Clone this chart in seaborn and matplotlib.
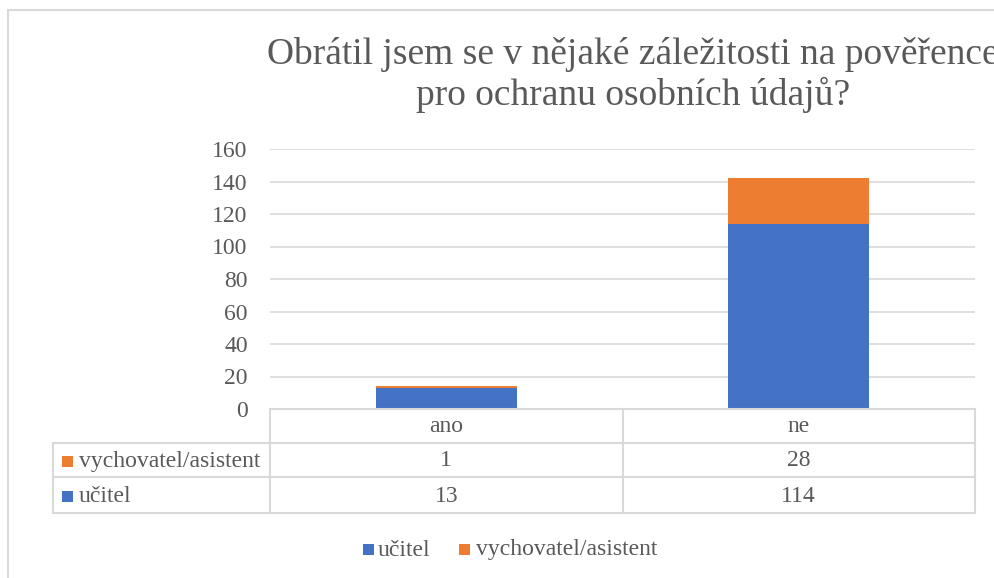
import matplotlib
matplotlib.use("Agg")
import matplotlib.pyplot as plt
import seaborn as sns
import pandas as pd
from matplotlib.patches import Rectangle
from matplotlib.lines import Line2D
from matplotlib.transforms import blended_transform_factory

categories = ["ano", "ne"]
ucitel = [13, 114]
vychovatel = [1, 28]
series_names = ["učitel", "vychovatel/asistent"]
yticks = [0, 20, 40, 60, 80, 100, 120, 140, 160]
title = "Obrátil jsem se v nějaké záležitosti na pověřence\npro ochranu osobních údajů?"

BLUE = "#4472C4"
ORANGE = "#ED7D31"
GRID = "#d9d9d9"
TXT = "#595959"

sns.set_theme(style="white")
plt.rcParams["font.family"] = ["Liberation Serif", "DejaVu Serif"]

W, H = 995, 578
fig = plt.figure(figsize=(W / 100, H / 100), dpi=100)
ax = fig.add_axes([270 / W, 1 - 409 / H, (975 - 270) / W, (409 - 149) / H])

df = pd.DataFrame({"cat": categories, "ucitel": ucitel, "vych": vychovatel})
df["total"] = df["ucitel"] + df["vych"]
sns.barplot(data=df, x="cat", y="total", color=ORANGE, saturation=1, width=0.4, ax=ax,
            zorder=3, linewidth=0)
sns.barplot(data=df, x="cat", y="ucitel", color=BLUE, saturation=1, width=0.4, ax=ax,
            zorder=3, linewidth=0)

fs = 17
ax.set_xlim(-0.5, len(categories) - 0.5)
ax.set_ylim(0, 160)
ax.set_yticks(yticks)
ax.set_yticklabels([str(t) for t in yticks], fontsize=fs, color=TXT)
ax.set_xticks([])
ax.set_xlabel("")
ax.set_ylabel("")
ax.tick_params(axis="y", length=0, pad=16)
ax.grid(axis="y", color=GRID, linewidth=1.2, zorder=0)
for s in ax.spines.values():
    s.set_visible(False)

# data table (figure pixel coords -> figure fraction)
def fx(x):
    return x / W

def fy(y):
    return 1 - y / H

lc = dict(color=GRID, linewidth=1.5, transform=fig.transFigure)
row_y = [409, 443, 477, 513]
col_x = [270, 623, 975]
fig.add_artist(Line2D([fx(270), fx(975)], [fy(409), fy(409)], **lc))
for yy in row_y[1:]:
    fig.add_artist(Line2D([fx(53), fx(975)], [fy(yy), fy(yy)], **lc))
for xx in col_x:
    fig.add_artist(Line2D([fx(xx), fx(xx)], [fy(409), fy(513)], **lc))
fig.add_artist(Line2D([fx(53), fx(53)], [fy(443), fy(513)], **lc))

trans = blended_transform_factory(ax.transData, fig.transFigure)
for i, c in enumerate(categories):
    ax.text(i, fy(427), c, transform=trans, ha="center", va="center", fontsize=fs, color=TXT)
    ax.text(i, fy(461), str(vychovatel[i]), transform=trans, ha="center", va="center", fontsize=fs, color=TXT)
    ax.text(i, fy(496), str(ucitel[i]), transform=trans, ha="center", va="center", fontsize=fs, color=TXT)

for name, color, yc in [(series_names[1], ORANGE, 461), (series_names[0], BLUE, 496)]:
    fig.add_artist(Rectangle((fx(62), fy(yc + 6)), 11 / W, 11 / H, facecolor=color,
                             edgecolor="none", transform=fig.transFigure))
    fig.text(fx(79), fy(yc), name, ha="left", va="center", fontsize=fs, color=TXT)

# bottom legend
for name, color, kx, tx in [(series_names[0], BLUE, 363, 378), (series_names[1], ORANGE, 459, 476)]:
    fig.add_artist(Rectangle((fx(kx), fy(555)), 11 / W, 11 / H, facecolor=color,
                             edgecolor="none", transform=fig.transFigure))
    fig.text(fx(tx), fy(550), name, ha="left", va="center", fontsize=fs, color=TXT)

# title (clipped at the right edge, as in the reference)
fig.text(fx(633), fy(75), title, ha="center", va="center", fontsize=27, color=TXT, linespacing=1.15)

# outer chart border
fig.add_artist(Line2D([fx(8), fx(8)], [fy(10), 0], color=GRID, linewidth=1.5, transform=fig.transFigure))
fig.add_artist(Line2D([fx(8), 1], [fy(10), fy(10)], color=GRID, linewidth=1.5, transform=fig.transFigure))

fig.savefig("out.png", dpi=100, facecolor="white")
